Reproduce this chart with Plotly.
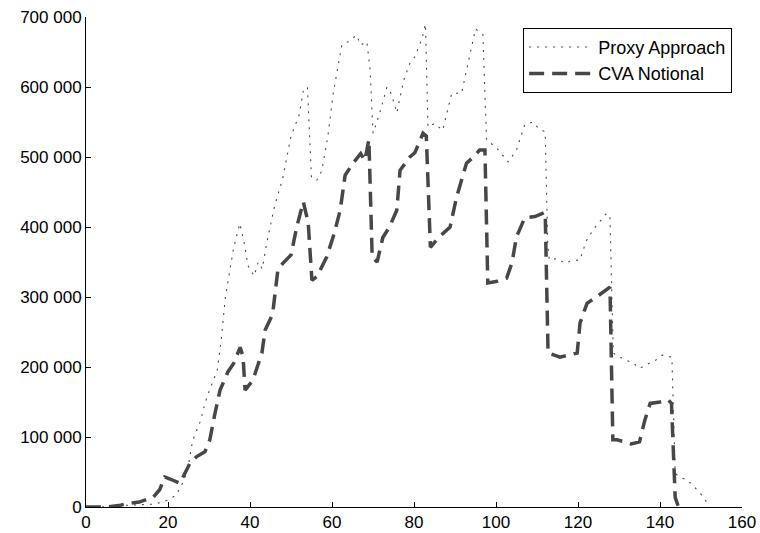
import plotly.graph_objects as go

# Proxy Approach (dotted) — x, y (values)
proxy_x = [0, 4, 8, 12, 16, 18, 20, 22, 24, 25, 26, 28, 29, 30, 32, 33, 34, 36, 37.5, 38.5, 39.5, 41, 42, 43, 44,
           46, 48, 50, 52, 53, 54, 55, 56.3, 57.5, 59, 60.3, 62.4, 64, 66, 67, 68.5, 69.3, 70, 71.5, 73.4, 74.5,
           75.8, 77.5, 79, 80.2, 82, 82.8, 83.4, 85, 87, 89.2, 91.6, 93.6, 95, 96.8, 97.7, 100, 103, 105, 107,
           109, 110.5, 112, 112.6, 113, 115, 116.8, 118.5, 120.5, 122, 123.7, 125.5, 127, 127.8, 128.6, 130,
           131.5, 133.4, 135, 137.6, 139, 140.5, 142.9, 143.7, 145, 146.6, 148, 149.8, 151.5, 152]
proxy_y = [0, 0, 2000, 3000, 4000, 6000, 10000, 17000, 39000, 60000, 95000, 124000, 148000, 165000, 195000,
           240000, 300000, 370000, 405000, 380000, 345000, 330000, 350000, 340000, 375000,
           430000, 470000, 530000, 560000, 595000, 600000, 470000, 467000, 480000, 530000, 591000, 660000,
           665000, 674000, 660000, 665000, 624000, 534000, 560000, 600000, 590000,
           563000, 610000, 634000, 643000, 670000, 690000, 543000, 548000, 538000, 591000, 591000, 645000,
           683000, 675000, 524000, 514000, 493000, 510000, 546000,
           550000, 540000, 536000, 377000, 353000, 355000, 348000, 352000, 353000, 380000, 396000, 410000,
           420000, 413000, 220000, 215000,
           210000, 206000, 198000, 206000, 210000, 217000, 214000, 48000, 42000, 39000, 30000, 20000, 6000, 0]

# CVA Notional (dashed)
cva_x = [0, 5, 8, 10, 13, 16.4, 18, 19.2, 20.5, 22.9, 25.4, 27, 29, 30.2, 31.5, 32.7, 34.6, 36, 37.6, 38.3,
         38.8, 40.7, 42.9, 43.7, 45.5, 46.8, 48, 50, 51.4, 53, 54.2, 55.1, 56.3, 58.7, 60.5, 62, 63.2, 65.1,
         67, 68, 69, 69.8, 71, 72.4, 74, 75.8, 76.6, 79, 80.2, 82.2, 83, 84, 86, 88, 88.8, 90.4, 92.8, 94.5,
         96, 97.3, 98, 100, 102.6, 103.9, 105, 107, 109.5, 112, 112.7, 115.6, 119.8, 120.5, 122.2, 124, 126,
         127.8, 128.5, 129.5, 132, 133, 135, 136.3, 137.6, 140, 142, 142.8, 143.7, 144.5]
cva_y = [0, 0, 2000, 5000, 7000, 14000, 25000, 43000, 40000, 34000, 63000, 72000, 79000, 96000, 135000,
         167000, 193000, 205000, 228000, 215000,
         167000, 181000, 220000, 253000, 275000, 339000, 348000, 360000, 400000, 436000, 406000, 324000,
         329000, 357000, 390000, 424000, 474000, 491000,
         505000, 495000, 525000, 357000, 350000, 385000, 400000, 424000, 481000, 500000, 506000, 534000,
         530000, 371000, 385000, 396000, 400000, 443000, 491000, 500000,
         510000, 510000, 320000, 322000, 327000, 349000, 386000, 413000, 415000, 421000, 220000, 214000,
         220000, 263000, 291000, 298000, 306000,
         314000, 96000, 96000, 92000, 90000, 93000, 124000, 148000, 150000, 153000, 148000, 14000, 0]

x_ticks = [0, 20, 40, 60, 80, 100, 120, 140, 160]
y_ticks = [0, 100000, 200000, 300000, 400000, 500000, 600000, 700000]
y_labels = ["0", "100 000", "200 000", "300 000", "400 000", "500 000", "600 000", "700 000"]

font = "Liberation Sans, Arial, Helvetica, sans-serif"

fig = go.Figure()
fig.add_trace(go.Scatter(x=proxy_x, y=proxy_y, mode="lines", name="Proxy Approach",
                         line=dict(color="#4a4a4a", width=1.1, dash="2px,6px")))
fig.add_trace(go.Scatter(x=cva_x, y=cva_y, mode="lines", name="CVA Notional",
                         line=dict(color="#474747", width=3.5, dash="15px,8px")))

fig.update_layout(
    width=760, height=533,
    margin=dict(l=86, r=18, t=17, b=26, autoexpand=False),
    plot_bgcolor="white", paper_bgcolor="white",
    font=dict(family=font, size=17, color="black"),
    showlegend=True,
    legend=dict(x=0.985, y=0.978, xanchor="right", yanchor="top",
                bgcolor="white", bordercolor="black", borderwidth=1,
                font=dict(size=18), itemwidth=64, tracegroupgap=0),
)
fig.update_xaxes(range=[0, 160], tickvals=x_ticks, showline=True, linecolor="black", linewidth=1,
                 ticks="inside", ticklen=5, tickcolor="black", showgrid=False, zeroline=False,
                 automargin=False)
fig.update_yaxes(range=[0, 700000], tickvals=y_ticks, ticktext=y_labels, showline=True, linecolor="black",
                 linewidth=1, ticks="inside", ticklen=5, tickcolor="black", showgrid=False, zeroline=False,
                 automargin=False)

fig.write_html("out.html")
